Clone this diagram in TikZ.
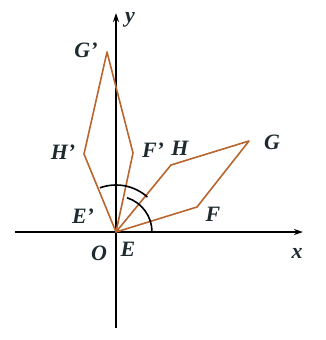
\documentclass[tikz,border=0pt]{standalone}
\usepackage{fontspec}
\setmainfont{Liberation Serif}
\usetikzlibrary{arrows.meta, positioning}
\definecolor{shapebrown}{HTML}{B8652E}
\definecolor{labelink}{HTML}{1E2B2E}

\begin{document}
\begin{tikzpicture}[
    x=1bp, y=1bp,
    axis/.style={draw=black, line width=2.5bp, -{Stealth[length=9bp, width=6bp]}},
    shapeedge/.style={draw=shapebrown, line width=1.6bp, line join=round},
    anglearc/.style={draw=black, line width=1.6bp},
    ptlabel/.style={font=\fontsize{22}{24}\selectfont\bfseries\itshape, text=labelink, inner sep=0pt}
]
\useasboundingbox (-116,-108) rectangle (210,232);

% --- PUNKTE ---
\coordinate (O) at (0,0);
\coordinate (F) at (81,25);
\coordinate (G) at (133,91);
\coordinate (H) at (55,67);
\coordinate (F1) at (17,79);
\coordinate (G1) at (-9,180);
\coordinate (H1) at (-32,78);

% Achsenenden
\coordinate (xstart) at (-101,0);
\coordinate (xend) at (187,0);
\coordinate (ystart) at (0,-96);
\coordinate (yend) at (0,219);

% --- ACHSEN ---
\draw[axis] (xstart) -- (xend);
\draw[axis] (ystart) -- (yend);

% --- FIGUREN ---
\draw[shapeedge] (O) -- (F) -- (G) -- (H) -- cycle;
\draw[shapeedge] (O) -- (F1) -- (G1) -- (H1) -- cycle;

% Drehwinkel
\draw[anglearc] (36,0) arc[start angle=0, end angle=72, radius=36];
\draw[anglearc] (O) ++(48:47) arc[start angle=48, end angle=110, radius=47];

% --- BESCHRIFTUNG ---
\node[ptlabel] (lx) at (181,-21) {x};
\node[ptlabel] (ly) at (14,212) {y};
\node[ptlabel] (lO) at (-17,-21) {O};
\node[ptlabel] (lE) at (12,-17) {E};
\node[ptlabel] (lE1) at (-33,16) {E'};
\node[ptlabel] (lF) at (97,18) {F};
\node[ptlabel] (lG) at (156,90) {G};
\node[ptlabel] (lH) at (64,84) {H};
\node[ptlabel] (lF1) at (37,82) {F'};
\node[ptlabel] (lH1) at (-53,80) {H'};
\node[ptlabel] (lG1) at (-30,182) {G'};

\end{tikzpicture}
\end{document}
